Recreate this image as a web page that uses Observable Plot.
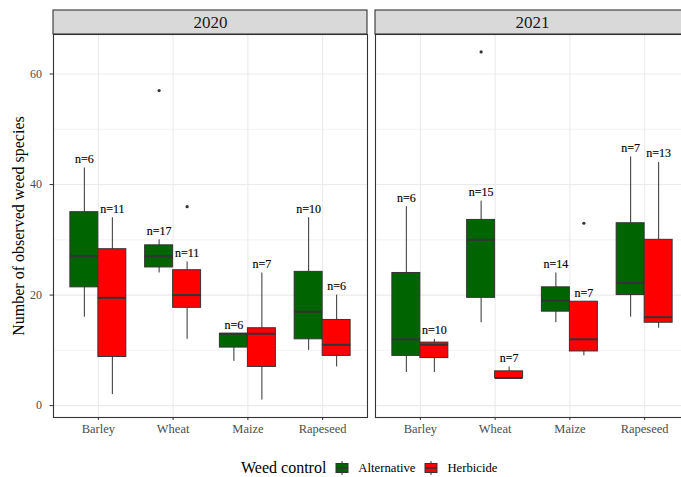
<!DOCTYPE html>
<html><head><meta charset="utf-8">
<script src="https://cdn.jsdelivr.net/npm/d3@7"></script>
<script src="https://cdn.jsdelivr.net/npm/@observablehq/plot@0.6"></script>
<style>
html,body{margin:0;padding:0;overflow:hidden;background:#fff;width:681px;height:477px;}
#wrap{position:relative;width:681px;height:477px;overflow:hidden;}
#chart{position:absolute;left:0;top:0;width:689px;}
#chart svg{max-width:none !important;}
#legend{position:absolute;left:241px;top:458px;height:20px;display:flex;align-items:center;font-family:"Liberation Serif",serif;color:#000;white-space:nowrap;}
#legend .t{font-size:16px;margin-right:9px;}
#legend .k{font-size:12.7px;}
#legend svg{display:block;}
</style></head>
<body><div id="wrap"><div id="chart"></div><div id="legend"></div></div>
<script>
// ---- data ----
const crops = ["Barley", "Wheat", "Maize", "Rapeseed"];
const years = ["2020", "2021"];
const treatments = ["Alternative", "Herbicide"];
const yTicks = [0, 20, 40, 60];
const yMinorTicks = [10, 30, 50];
// order: 2020 Alternative (4 crops), 2020 Herbicide, 2021 Alternative, 2021 Herbicide
const whiskerLow  = [16, 24, 8, 10,   2, 12, 1, 7,     6, 15, 15, 16,   6, 5, 9, 14];
const quart1      = [21.4, 25, 10.5, 12,  8.8, 17.7, 7, 9,   9, 19.5, 17, 20,   8.6, 5, 9.8, 15];
const medianVal   = [27, 27, 13, 17,  19.5, 20, 13, 11,   12, 30, 19, 22.2,   11, 5, 12, 16];
const quart3      = [35, 29, 13, 24.2,  28.3, 24.5, 14, 15.5,   24, 33.6, 21.4, 33,   11.4, 6.2, 18.8, 30];
const whiskerHigh = [43, 30, 13, 34,  34, 26, 24, 20,   36, 37, 24, 45,   12, 7, 18.8, 44];
const nObs        = [6, 17, 6, 10,  11, 11, 7, 6,   6, 15, 14, 7,   10, 7, 7, 13];
const outlierYear = ["2020", "2020", "2021", "2021"];
const outlierTreatment = ["Alternative", "Herbicide", "Alternative", "Herbicide"];
const outlierCrop = ["Wheat", "Wheat", "Wheat", "Maize"];
const outlierValue = [57, 36, 64, 33];

// ---- build tables ----
const rows = [];
let k = 0;
for (const year of years) for (const treatment of treatments) for (const crop of crops) {
  rows.push({year, treatment, crop, lo: whiskerLow[k], q1: quart1[k], med: medianVal[k], q3: quart3[k], hi: whiskerHigh[k], n: nObs[k]});
  k++;
}
const outs = outlierValue.map((v, i) => ({year: outlierYear[i], treatment: outlierTreatment[i], crop: outlierCrop[i], value: v}));

const fillColor = {Alternative: "#006400", Herbicide: "#FF0000"};
const offset = {Alternative: -14, Herbicide: 14};
const inset = 23.4;
const yBot = -2.15, yTop = 67.15;
const grey20 = "#333333";

function boxMarks(t) {
  const d = rows.filter(r => r.treatment === t);
  const o = outs.filter(r => r.treatment === t);
  const dx = offset[t];
  return [
    Plot.ruleX(d, {fx: "year", x: "crop", y1: "lo", y2: "hi", dx, stroke: grey20, strokeWidth: 1}),
    Plot.barY(d, {fx: "year", x: "crop", y1: "q1", y2: "q3", dx, insetLeft: inset, insetRight: inset, fill: fillColor[t], stroke: grey20, strokeWidth: 1}),
    Plot.tickY(d, {fx: "year", x: "crop", y: "med", dx, insetLeft: inset, insetRight: inset, stroke: grey20, strokeWidth: 2}),
    Plot.dot(o, {fx: "year", x: "crop", y: "value", dx, r: 1.6, fill: grey20, stroke: null}),
    Plot.text(d, {fx: "year", x: "crop", y: "hi", dx, dy: -9, text: r => "n=" + r.n, fontSize: 12, fill: "#000", stroke: "#000", strokeWidth: 0.15})
  ];
}

const chart = Plot.plot({
  width: 689,
  height: 448,
  marginLeft: 53,
  marginRight: 0,
  marginTop: 34,
  marginBottom: 31,
  style: {fontFamily: '"Liberation Serif", serif', background: "transparent", overflow: "visible", maxWidth: "none"},
  fx: {domain: years, paddingInner: 8 / 322, paddingOuter: 0, round: false, axis: null, label: null},
  x: {domain: crops, paddingInner: 0, paddingOuter: 0.1, round: false, label: null},
  y: {domain: [yBot, yTop], label: null},
  marks: [
    Plot.ruleY(yMinorTicks, {y: d => d, stroke: "#ebebeb", strokeWidth: 0.6}),
    Plot.ruleY(yTicks, {y: d => d, stroke: "#ebebeb", strokeWidth: 1.1}),
    Plot.ruleX(crops, {x: d => d, stroke: "#ebebeb", strokeWidth: 1.1}),
    ...boxMarks("Alternative"),
    ...boxMarks("Herbicide"),
    Plot.frame({stroke: grey20, strokeWidth: 1.1}),
    Plot.rect(years, {fx: d => d, y1: () => yTop, y2: () => yTop, insetTop: -24, fill: "#d9d9d9", stroke: grey20, strokeWidth: 1.1}),
    Plot.text(years, {fx: d => d, text: d => d, frameAnchor: "top", lineAnchor: "middle", dy: -12, fontSize: 17, fill: "#1a1a1a"}),
    Plot.axisY({ticks: yTicks, tickSize: 3.5, tickPadding: 8, fontSize: 12, stroke: grey20, fill: "#4d4d4d", label: null}),
    Plot.axisX({tickSize: 3, tickPadding: 4, fontSize: 12.5, stroke: grey20, fill: "#4d4d4d", label: null}),
    Plot.text(["Number of observed weed species"], {fx: () => "2020", text: d => d, frameAnchor: "left", textAnchor: "middle", lineAnchor: "middle", dx: -35, rotate: -90, fontSize: 16, fill: "#000"})
  ]
});
document.getElementById("chart").appendChild(chart);

// ---- legend ----
const legend = document.getElementById("legend");
const title = document.createElement("span");
title.className = "t";
title.textContent = "Weed control";
legend.appendChild(title);
treatments.forEach((t, i) => {
  const ns = "http://www.w3.org/2000/svg";
  const svg = document.createElementNS(ns, "svg");
  svg.setAttribute("width", "14");
  svg.setAttribute("height", "16");
  svg.style.marginRight = "9px";
  const l = document.createElementNS(ns, "line");
  l.setAttribute("x1", "7"); l.setAttribute("x2", "7"); l.setAttribute("y1", "1"); l.setAttribute("y2", "15");
  l.setAttribute("stroke", grey20);
  svg.appendChild(l);
  const r = document.createElementNS(ns, "rect");
  r.setAttribute("x", "1"); r.setAttribute("y", "3.5"); r.setAttribute("width", "12"); r.setAttribute("height", "9");
  r.setAttribute("fill", fillColor[t]); r.setAttribute("stroke", grey20);
  svg.appendChild(r);
  const m = document.createElementNS(ns, "line");
  m.setAttribute("x1", "1"); m.setAttribute("x2", "13"); m.setAttribute("y1", "8"); m.setAttribute("y2", "8");
  m.setAttribute("stroke", grey20); m.setAttribute("stroke-width", "1.5");
  svg.appendChild(m);
  legend.appendChild(svg);
  const s = document.createElement("span");
  s.className = "k";
  s.textContent = t;
  s.style.marginRight = i === 0 ? "9px" : "0";
  legend.appendChild(s);
});
</script>
</body></html>
